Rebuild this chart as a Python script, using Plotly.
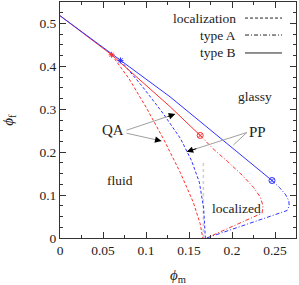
import plotly.graph_objects as go

# ---- data (phi_m, phi_f) ----
typeB_red_x = [0.0, 0.060, 0.128, 0.163]
typeB_red_y = [0.518, 0.427, 0.306, 0.239]
typeB_blue_x = [0.0, 0.0703, 0.128, 0.2465]
typeB_blue_y = [0.518, 0.414, 0.329, 0.134]

loc_red_x = [0.060, 0.080, 0.100, 0.120, 0.140, 0.155, 0.163, 0.166]
loc_red_y = [0.427, 0.372, 0.305, 0.232, 0.152, 0.083, 0.033, 0.0]
loc_blue_x = [0.0703, 0.095, 0.120, 0.140, 0.153, 0.162, 0.167, 0.169]
loc_blue_y = [0.414, 0.355, 0.290, 0.232, 0.180, 0.130, 0.070, 0.0]

typeA_red_x = [0.163, 0.178, 0.195, 0.212, 0.225, 0.233, 0.236, 0.235, 0.1705]
typeA_red_y = [0.239, 0.208, 0.178, 0.146, 0.118, 0.095, 0.075, 0.058, 0.0]
typeA_blue_x = [0.2465, 0.255, 0.262, 0.266, 0.2665, 0.264, 0.1705]
typeA_blue_y = [0.134, 0.118, 0.102, 0.087, 0.075, 0.064, 0.0]

gray_x = [0.1667, 0.1667]
gray_y = [0.0, 0.175]

star_x = [0.060, 0.0703]
star_y = [0.427, 0.414]
circ_x = [0.163, 0.2465]
circ_y = [0.239, 0.134]

legend_labels = ["localization", "type A", "type B"]
x_ticks = [0, 0.05, 0.1, 0.15, 0.2, 0.25]
x_ticktext = ["0", "0.05", "0.1", "0.15", "0.2", "0.25"]
y_ticks = [0, 0.1, 0.2, 0.3, 0.4, 0.5]
y_ticktext = ["0", "0.1", "0.2", "0.3", "0.4", "0.5"]

RED = "rgb(255,45,45)"
BLUE = "rgb(50,50,255)"
DASH = "3px,2px"
DASHDOT = "4px,2px,1px,2px"
FONT = "Liberation Serif"

fig = go.Figure()

def line(x, y, color, dash, width=1.0):
    fig.add_trace(go.Scatter(x=x, y=y, mode="lines", showlegend=False,
                             line=dict(color=color, width=width, dash=dash),
                             hoverinfo="skip"))

line(gray_x, gray_y, "rgb(205,205,205)", "dot", 1.5)
line(loc_red_x, loc_red_y, RED, DASH)
line(loc_blue_x, loc_blue_y, BLUE, DASH)
line(typeA_red_x, typeA_red_y, RED, DASHDOT)
line(typeA_blue_x, typeA_blue_y, BLUE, DASHDOT)
line(typeB_red_x, typeB_red_y, RED, "solid")
line(typeB_blue_x, typeB_blue_y, BLUE, "solid")

fig.add_trace(go.Scatter(x=star_x, y=star_y, mode="markers", showlegend=False,
                         marker=dict(symbol="asterisk-open", size=5,
                                     color=[RED, BLUE], line=dict(width=1, color=[RED, BLUE]))))
fig.add_trace(go.Scatter(x=circ_x, y=circ_y, mode="markers", showlegend=False,
                         marker=dict(symbol="circle-x-open", size=6,
                                     color=[RED, BLUE], line=dict(width=1, color=[RED, BLUE]))))

# ---- manual legend (text right, sample on the right) ----
leg_y = [0.932, 0.860, 0.784]
leg_dash = ["3px,2px", "4px,2px,1px,2px", "solid"]
for lab, yy, d in zip(legend_labels, leg_y, leg_dash):
    fig.add_annotation(x=0.754, y=yy, xref="paper", yref="paper", text=lab,
                       showarrow=False, xanchor="right", yanchor="middle",
                       font=dict(family=FONT, size=13.5, color="#222"))
    fig.add_shape(type="line", xref="paper", yref="paper", x0=0.784, x1=0.941,
                  y0=yy, y1=yy, line=dict(color="#222", width=1, dash=d))

# ---- region labels ----
def label(x, y, t, size=13.5):
    fig.add_annotation(x=x, y=y, text=t, showarrow=False,
                       font=dict(family=FONT, size=size, color="#222"))

label(0.227, 0.329, "glassy")
label(0.0698, 0.135, "fluid")
label(0.2047, 0.068, "localized")
label(0.0616, 0.251, "QA", 15)
label(0.2302, 0.248, "PP", 15)

def arrow(x0, y0, x1, y1):
    fig.add_annotation(x=x1, y=y1, ax=x0, ay=y0, axref="x", ayref="y",
                       text="", showarrow=True, arrowhead=0, arrowwidth=1,
                       arrowcolor="rgb(160,160,160)")
    f = 0.18
    fig.add_annotation(x=x1, y=y1, ax=x1 - f * (x1 - x0), ay=y1 - f * (y1 - y0),
                       axref="x", ayref="y", text="", showarrow=True,
                       arrowhead=2, arrowsize=1.3, arrowwidth=1, arrowcolor="black")

arrow(0.0756, 0.250, 0.134, 0.289)
arrow(0.0756, 0.245, 0.118, 0.226)
arrow(0.219, 0.249, 0.2016, 0.2168)
arrow(0.219, 0.247, 0.1473, 0.201)

axis_common = dict(showline=True, linecolor="#333", linewidth=1, mirror="ticks",
                   ticks="inside", ticklen=6, tickcolor="#333", showgrid=False,
                   zeroline=False, automargin=False,
                   tickfont=dict(family=FONT, size=13.5, color="#222"))

fig.update_xaxes(range=[0, 0.2744], tickvals=x_ticks, ticktext=x_ticktext,
                 minor=dict(ticks="inside", ticklen=3, dtick=0.025, tickcolor="#333", showgrid=False),
                 title=dict(text="<i>ϕ</i><sub>m</sub>", font=dict(family=FONT, size=15, color="#222"),
                            standoff=17),
                 **axis_common)
fig.update_yaxes(range=[0, 0.55], tickvals=y_ticks, ticktext=y_ticktext,
                 minor=dict(ticks="inside", ticklen=3, dtick=0.025, tickcolor="#333", showgrid=False),
                 title=dict(text="<i>ϕ</i><sub>f</sub>", font=dict(family=FONT, size=15, color="#222"),
                            standoff=23),
                 **axis_common)

fig.update_layout(width=299, height=285, margin=dict(l=60, r=3, t=2, b=47),
                  plot_bgcolor="white", paper_bgcolor="white", showlegend=False)

fig.write_html("out.html", config={"displayModeBar": False},
               post_script="document.body.style.margin='0';")
